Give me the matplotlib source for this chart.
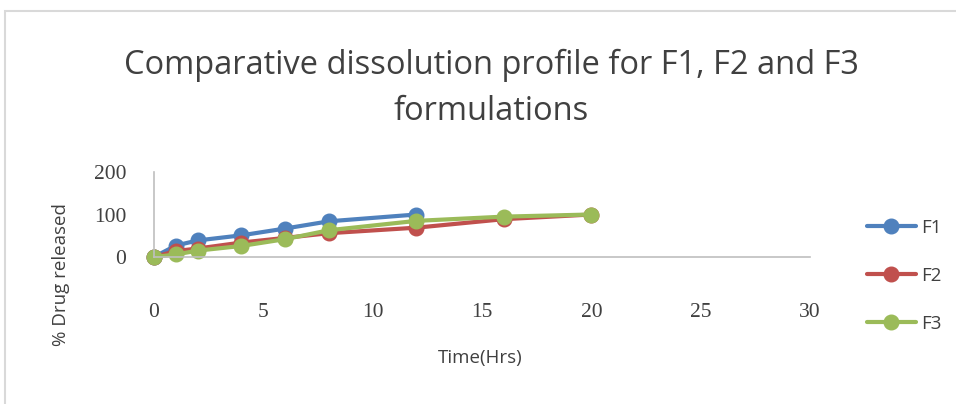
import matplotlib
matplotlib.use("Agg")
import matplotlib.pyplot as plt
from matplotlib.patches import Rectangle

plt.rcParams['font.family'] = ['Open Sans', 'DejaVu Sans']

# data
t_f1 = [0, 1, 2, 4, 6, 8, 12]
f1 = [0, 27, 39, 51, 67, 84, 100]
t_f2 = [0, 1, 2, 4, 6, 8, 12, 16, 20]
f2 = [0, 14, 20, 34, 45, 56, 69, 89, 100]
t_f3 = [0, 1, 2, 4, 6, 8, 12, 16, 20]
f3 = [0, 6, 15, 26, 42, 63, 85, 95, 100]

series = [("F1", t_f1, f1, "#4F81BD"),
          ("F2", t_f2, f2, "#C0504D"),
          ("F3", t_f3, f3, "#9BBB59")]

fig = plt.figure(figsize=(9.56, 4.04), dpi=100)
W, H = 956, 404

# outer chart border (light gray)
fig.patches.append(Rectangle((5 / W, -0.1), 1.2, (H - 11) / H + 0.1,
                             transform=fig.transFigure, fill=False,
                             edgecolor="#D9D9D9", linewidth=1.5))

ax = fig.add_axes([154 / W, (H - 257) / H, (810 - 154) / W, (257 - 172) / H])

handles = []
for name, t, y, c in series:
    h, = ax.plot(t, y, color=c, linewidth=3, marker="o", markersize=10.5,
                 label=name, solid_capstyle="round")
    handles.append(h)

ax.set_xlim(0, 30)
ax.set_ylim(0, 200)
ax.set_xticks([0, 5, 10, 15, 20, 25, 30])
ax.set_yticks([0, 100, 200])
ax.tick_params(length=0, labelsize=15.5, colors="#404040")
ax.tick_params(axis="x", pad=33)
ax.tick_params(axis="y", pad=20)
for lab in ax.get_xticklabels() + ax.get_yticklabels():
    lab.set_family(["Liberation Serif", "DejaVu Serif"])
for s in ["top", "right"]:
    ax.spines[s].set_visible(False)
for s in ["left", "bottom"]:
    ax.spines[s].set_color("#BFBFBF")
    ax.spines[s].set_linewidth(1.2)
for h in handles:
    h.set_clip_on(False)

fig.text(491 / W, 1 - 65 / H, "Comparative dissolution profile for F1, F2 and F3",
         ha="center", va="center", fontsize=23.5, color="#404040")
fig.text(491 / W, 1 - 111 / H, "formulations",
         ha="center", va="center", fontsize=23.5, color="#404040")

fig.text(480 / W, 1 - 358 / H, "Time(Hrs)", ha="center", va="center",
         fontsize=13.5, color="#404040")
fig.text(61 / W, 1 - 275 / H, "% Drug released", ha="center", va="center",
         rotation=90, fontsize=13.5, color="#404040")

leg = fig.legend(handles=handles, loc="center left",
                 bbox_to_anchor=(850 / W, 1 - 276 / H), frameon=False,
                 fontsize=13.5, labelcolor="#404040", handlelength=2.6,
                 labelspacing=1.6, handletextpad=0.3)

fig.savefig("out.png", dpi=100)
